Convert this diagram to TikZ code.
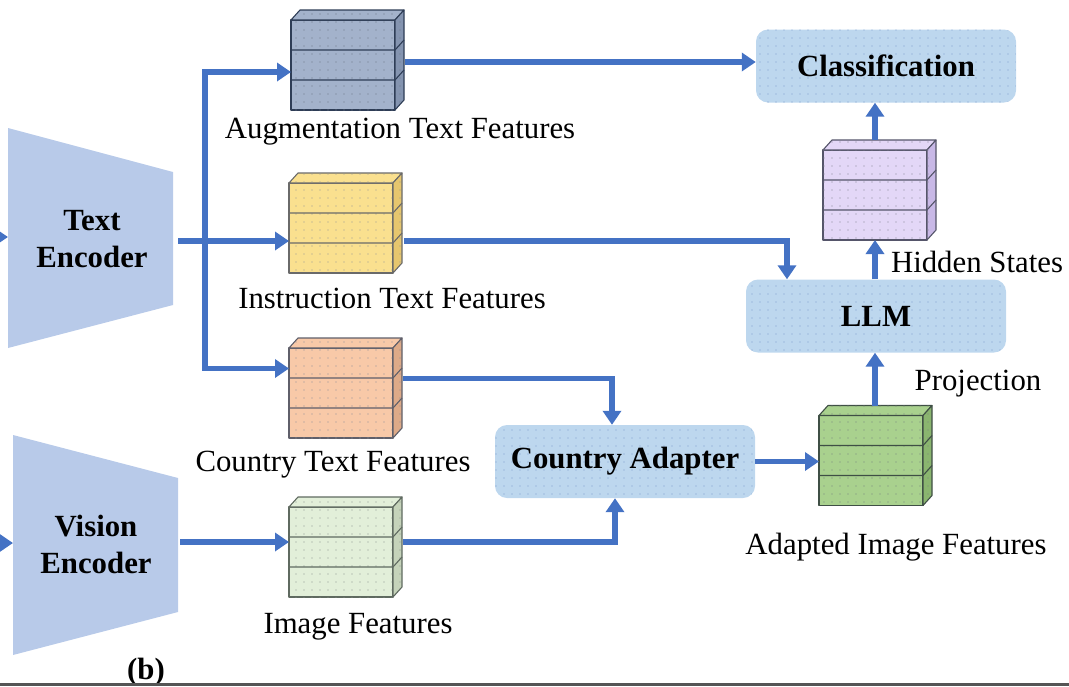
\documentclass[tikz,border=0pt]{standalone}
\usepackage{fontspec}
\setmainfont{Liberation Serif}
\usetikzlibrary{arrows.meta,patterns.meta,calc}
\definecolor{arrowblue}{HTML}{4472C4}
\definecolor{boxblue}{HTML}{BDD7EE}
\definecolor{dotblue}{HTML}{7F9DCC}
\definecolor{encfill}{HTML}{B8CAE9}
\definecolor{augF}{HTML}{A3B2CB}\definecolor{augS}{HTML}{8494B0}\definecolor{augE}{HTML}{2E3D56}
\definecolor{insF}{HTML}{FAE08F}\definecolor{insS}{HTML}{E6C66E}\definecolor{insE}{HTML}{6A6A6A}
\definecolor{ctyF}{HTML}{F8C9A8}\definecolor{ctyS}{HTML}{DDAA88}\definecolor{ctyE}{HTML}{5F5F6A}
\definecolor{imgF}{HTML}{E2EFD9}\definecolor{imgS}{HTML}{C5D3BA}\definecolor{imgE}{HTML}{5F6A60}
\definecolor{hidF}{HTML}{E3D7F7}\definecolor{hidS}{HTML}{C8B8E6}\definecolor{hidE}{HTML}{55556A}
\definecolor{adpF}{HTML}{A9D18E}\definecolor{adpS}{HTML}{8AB56F}\definecolor{adpE}{HTML}{3F4F45}
\definecolor{rulegray}{HTML}{555555}

\newcommand\featcube[6]{%
  \node[cubefront, draw=#6, fill=#4, postaction={pattern={Dots[distance=8pt,radius=0.55pt]}, pattern color=#6!70}] (#1) at (#2,#3) {};
  \filldraw[fill=#4, draw=#6, cubeedge, postaction={pattern={Dots[distance=8pt,radius=0.55pt]}, pattern color=#6!70}]
    (#1.north west) -- ++(9,-10) -- ++(104,0) -- (#1.north east) -- cycle;
  \filldraw[fill=#5, draw=#6, cubeedge, postaction={pattern={Dots[distance=8pt,radius=0.55pt]}, pattern color=#6!70}]
    (#1.north east) -- ++(9,-10) -- ++(0,90) -- (#1.south east) -- cycle;
  \draw[draw=#6, cubeedge] ($(#1.north west)!1/3!(#1.south west)$) -- ($(#1.north east)!1/3!(#1.south east)$) -- ++(9,-10);
  \draw[draw=#6, cubeedge] ($(#1.north west)!2/3!(#1.south west)$) -- ($(#1.north east)!2/3!(#1.south east)$) -- ++(9,-10);
}

\begin{document}
\begin{tikzpicture}[x=1pt,y=-1pt,
  lbl/.style={font=\fontsize{30.8}{37}\selectfont, inner sep=0pt},
  blbl/.style={font=\fontsize{30.8}{37}\selectfont\bfseries, inner sep=0pt},
  arr/.style={draw=arrowblue, line width=5.5pt, line join=miter, -{Triangle[length=14pt,width=18pt]}},
  cubeedge/.style={line width=1.1pt, line join=round},
  cubefront/.style={rectangle, minimum width=104pt, minimum height=90pt, inner sep=0pt, outer sep=0pt, cubeedge},
  rbox/.style={rectangle, fill=boxblue, rounded corners=12pt, minimum width=260pt, minimum height=73pt, inner sep=0pt,
    font=\fontsize{30.8}{37}\selectfont\bfseries,
    postaction={pattern={Dots[distance=8pt,radius=0.6pt]}, pattern color=dotblue}},
]
\useasboundingbox (0,0) rectangle (1069,686);

% encoders
\fill[encfill] (8,128) -- (173,172) -- (173,305) -- (8,348) -- cycle;
\fill[encfill] (13,435) -- (178,478) -- (178,612) -- (13,655) -- cycle;
\node[blbl, align=center] (te) at (92,239) {Text\\Encoder};
\node[blbl, align=center] (ve) at (96,544) {Vision\\Encoder};

% feature cubes
\featcube{aug}{343}{65}{augF}{augS}{augE}
\featcube{inst}{341}{228}{insF}{insS}{insE}
\featcube{ctry}{341}{393}{ctyF}{ctyS}{ctyE}
\featcube{img}{341}{552}{imgF}{imgS}{imgE}
\featcube{hid}{875}{195}{hidF}{hidS}{hidE}
\featcube{adp}{871}{460.5}{adpF}{adpS}{adpE}

% rounded boxes
\node[rbox] (cls) at (886,66) {Classification};
\node[rbox] (llm) at (876,316) {LLM};
\node[rbox] (ca) at (625,461.5) {Country Adapter};

% labels
\node[lbl, anchor=base] (l-aug) at (400,138) {Augmentation Text Features};
\node[lbl, anchor=base] (l-inst) at (392,308) {Instruction Text Features};
\node[lbl, anchor=base] (l-ctry) at (333,471) {Country Text Features};
\node[lbl, anchor=base] (l-img) at (358,633) {Image Features};
\node[lbl, anchor=base] (l-hid) at (977,272) {Hidden States};
\node[lbl, anchor=base] (l-proj) at (978,390) {Projection};
\node[lbl, anchor=base] (l-adp) at (896,554) {Adapted Image Features};
\node[blbl, anchor=base] (l-b) at (146,679) {(b)};

% connectors
\coordinate (te-in0) at (-30,237);
\coordinate (te-in) at (8,237);
\coordinate (ve-in0) at (-30,543);
\coordinate (ve-in) at (13,543);
\draw[arr] (te-in0) -- (te-in);
\draw[arr] (ve-in0) -- (ve-in);

\coordinate (te-o) at (178,241);
\coordinate (br) at (205,241);
\draw[arr] (te-o) -- (te-o -| inst.west);
\draw[arr] (br) |- ([yshift=-7pt]aug.west);
\draw[arr] (br) |- ([yshift=24.5pt]ctry.west);

\coordinate (ve-o) at (180,542);
\draw[arr] (ve-o) -- (ve-o -| img.west);

\coordinate (a-o) at ([xshift=10pt,yshift=3pt]aug.east);
\draw[arr] (a-o) -- (a-o -| cls.west);

\coordinate (i-o) at ([xshift=11pt,yshift=-13pt]inst.east);
\draw[arr] (i-o) -| ([xshift=-89pt]llm.north);

\coordinate (c-o) at ([xshift=10pt,yshift=14.5pt]ctry.east);
\draw[arr] (c-o) -| ([xshift=-13pt]ca.north);

\coordinate (g-o) at ([xshift=10pt,yshift=10pt]img.east);
\draw[arr] (g-o) -| ([xshift=-10pt]ca.south);

\draw[arr] (ca.east) -- (ca.east -| adp.west);

\coordinate (p-o) at ([xshift=4pt,yshift=10pt]adp.north);
\draw[arr] (p-o) -- (p-o |- llm.south);

\coordinate (l-o) at (llm.north -| hid.south);
\draw[arr] (l-o) -- (hid.south);

\coordinate (h-o) at ([yshift=10pt]hid.north);
\draw[arr] (h-o) -- (h-o |- cls.south);

% bottom rule
\draw[line width=3pt, draw=rulegray] (0,684.5) -- (1069,684.5);
\end{tikzpicture}
\end{document}
